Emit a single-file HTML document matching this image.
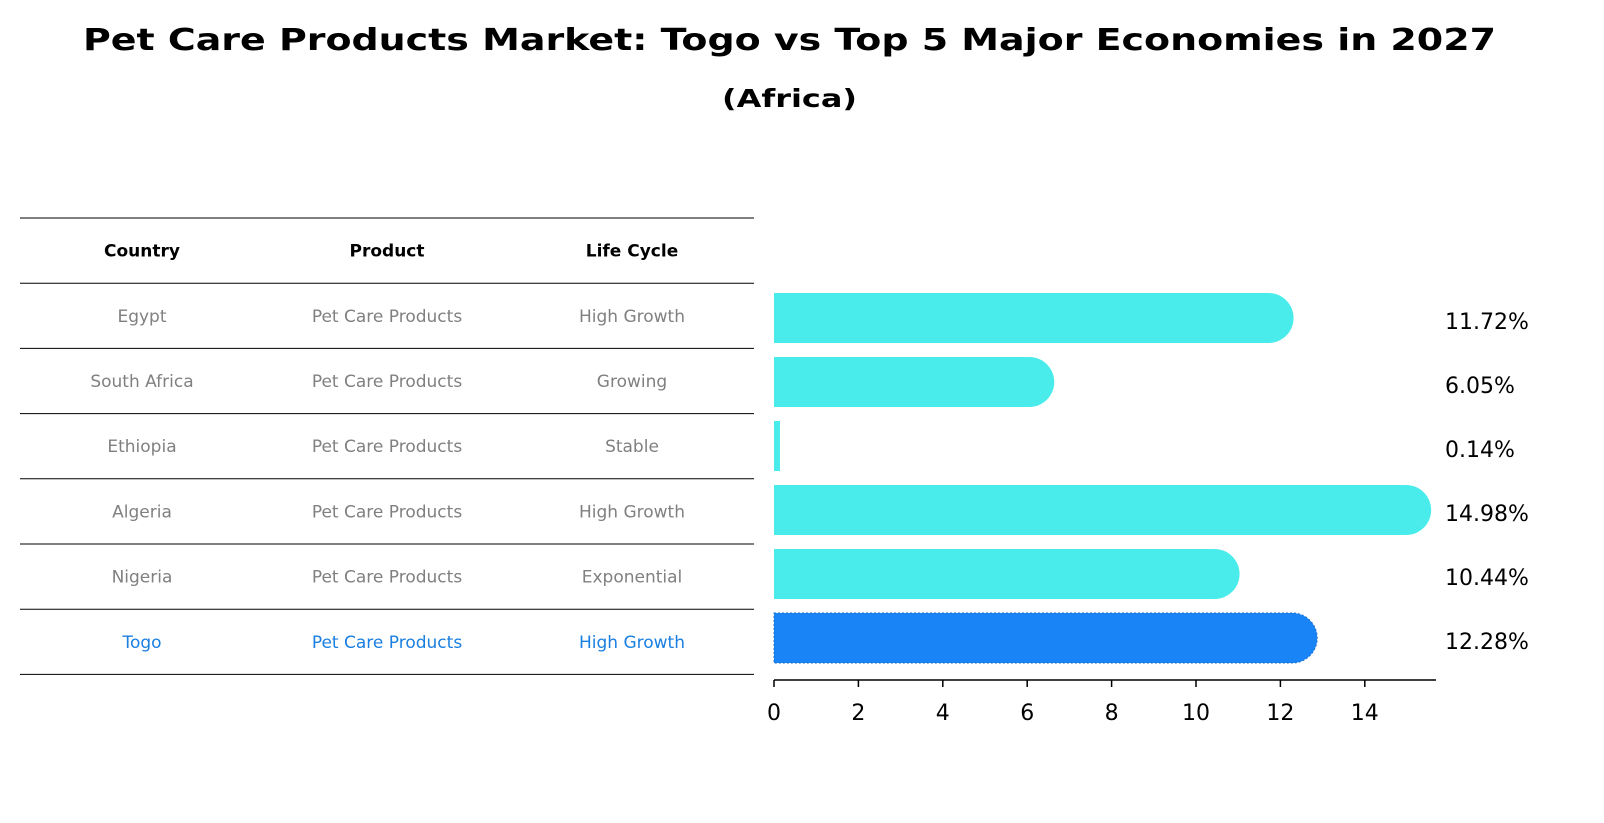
<!DOCTYPE html>
<html><head><meta charset="utf-8"><style>
body{margin:0;background:#fff;font-family:"Liberation Sans","DejaVu Sans",sans-serif}
#wrap{position:relative;width:1604px;height:823px;overflow:hidden}
</style></head><body>
<div id="wrap">
<svg id="svg" width="1604" height="823" viewBox="0 0 1604 823" xmlns="http://www.w3.org/2000/svg" font-family="DejaVu Sans, Liberation Sans, sans-serif">
<text x="83" y="50" font-size="30" font-weight="bold" textLength="1413" lengthAdjust="spacingAndGlyphs">Pet Care Products Market: Togo vs Top 5 Major Economies in 2027</text>
<text x="722" y="107" font-size="25" font-weight="bold" textLength="135" lengthAdjust="spacingAndGlyphs">(Africa)</text>
<g id="table"></g>
<g id="bars"></g>
</svg>
</div>
<script>
const countries=["Egypt","South Africa","Ethiopia","Algeria","Nigeria","Togo"];
const products=["Pet Care Products","Pet Care Products","Pet Care Products","Pet Care Products","Pet Care Products","Pet Care Products"];
const lifecycles=["High Growth","Growing","Stable","High Growth","Exponential","High Growth"];
const values=[11.72,6.05,0.14,14.98,10.44,12.28];
const xTicks=[0,2,4,6,8,10,12,14];

(function(){
const NS="http://www.w3.org/2000/svg";
function mk(tag,attrs,parent,text){const e=document.createElementNS(NS,tag);for(const k in attrs)e.setAttribute(k,attrs[k]);if(text!==undefined)e.textContent=text;parent.appendChild(e);return e;}
const tbl=document.getElementById('table');
const rowH=65.2, tableTop=218;
const colX=[142,387,632];
const hdr=["Country","Product","Life Cycle"];
hdr.forEach((h,i)=>{const t=mk('text',{x:colX[i],y:tableTop+rowH/2+6,'text-anchor':'middle','font-size':17,'font-weight':'bold'},tbl,h);

});
for(let r=0;r<=countries.length+1;r++){const l=mk('line',{x1:20,x2:754,y1:tableTop+r*rowH,y2:tableTop+r*rowH,stroke:'#000','stroke-width':1},tbl);

}
countries.forEach((c,i)=>{const y=tableTop+(i+1)*rowH+rowH/2+6;const col=c==="Togo"?"#1a7fe0":"#808080";
[c,products[i],lifecycles[i]].forEach((v,j)=>{const t=mk('text',{x:colX[j],y:y,'text-anchor':'middle','font-size':17,fill:col},tbl,v);

});});

const g=document.getElementById('bars');
const x0=774, ppu=42.2;
const xs=v=>x0+v*ppu;
const barCenters=i=>318+i*64;
const bh=50;
values.forEach((v,i)=>{const cy=barCenters(i);const isT=countries[i]==="Togo";const col=isT?"#1984f5":"#4aeceb";
const w=Math.max(xs(v)-x0,1);const r=v>1?bh/2:0;
const d=r?`M${x0},${cy-bh/2} H${x0+w} A${r},${r} 0 0 1 ${x0+w},${cy+bh/2} H${x0} Z`:`M${x0},${cy-bh/2} h${Math.max(w,6)} v${bh} h${-Math.max(w,6)} Z`;
const p=mk('path',{d:d,fill:col},g);
if(isT){p.setAttribute('stroke','#1a6fd0');p.setAttribute('stroke-dasharray','2 2');}


const t=mk('text',{x:1445,y:cy+11,'font-size':22},g,v.toFixed(2)+'%');

});
const ax=mk('line',{x1:x0,x2:1436,y1:680,y2:680,stroke:'#000','stroke-width':1.5},g);


xTicks.forEach(v=>{const tk=mk('line',{x1:xs(v),x2:xs(v),y1:680,y2:687,stroke:'#000','stroke-width':1.5},g);


const t=mk('text',{x:xs(v),y:720,'text-anchor':'middle','font-size':22},g,String(v));

});
})();
</script>
</body></html>
